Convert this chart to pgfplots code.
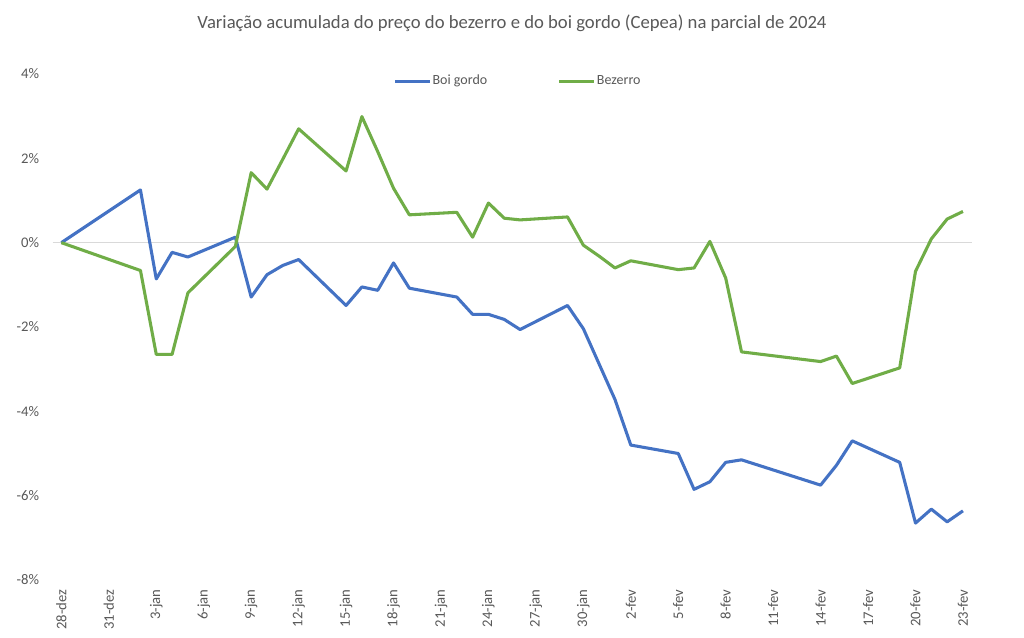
\documentclass[border=0pt]{standalone}
\usepackage{pgfplots}
\pgfplotsset{compat=1.18}
\usepackage{fontspec}
\setmainfont{Carlito}
\definecolor{boi}{HTML}{4472C4}
\definecolor{bez}{HTML}{70AD47}
\definecolor{txt}{HTML}{595959}
\definecolor{zl}{HTML}{D9D9D9}
\begin{document}
\begin{tikzpicture}
\useasboundingbox (0pt,0pt) rectangle (768pt,477.75pt);
\fill[white] (0pt,0pt) rectangle (768pt,477.75pt);
\node[text=txt,font=\fontsize{14}{16}\selectfont] at (384pt,460.5pt) {Variação acumulada do preço do bezerro e do boi gordo (Cepea) na parcial de 2024};
\begin{axis}[
  at={(39.5pt,42.75pt)}, anchor=south west,
  scale only axis, width=689.25pt, height=379.5pt,
  xmin=-0.55, xmax=57.55, ymin=-8, ymax=4,
  axis line style={draw=none}, major tick style={draw=none},
  xtick={0,3,...,57},
  xticklabels={28-dez,31-dez,3-jan,6-jan,9-jan,12-jan,15-jan,18-jan,21-jan,24-jan,27-jan,30-jan,2-fev,5-fev,8-fev,11-fev,14-fev,17-fev,20-fev,23-fev},
  ytick={-8,-6,-4,-2,0,2,4},
  yticklabels={-8\%,-6\%,-4\%,-2\%,0\%,2\%,4\%},
  ticklabel style={text=txt,font=\fontsize{11}{13}\selectfont},
  xticklabel style={rotate=90,anchor=east,inner sep=0pt,xshift=-7pt},
  yticklabel style={anchor=east,inner sep=0pt,xshift=-10pt},
  legend columns=2,
  legend style={at={(rel axis cs:0.506,0.986)},anchor=center,draw=none,fill=none,
    font=\fontsize{10.5}{12}\selectfont,text=txt,
    nodes={inner sep=1pt},
    /tikz/every even column/.append style={column sep=52pt}},
  legend image code/.code={\draw[#1] (0pt,0pt) -- (26pt,0pt);},
  clip=false,
]
\draw[zl,line width=0.8pt] (axis cs:-0.55,0) -- (axis cs:57.55,0);
\addplot[boi,line width=2.3pt,line join=round] coordinates {
(0,0) (5,1.25) (6,-0.86) (7,-0.23) (8,-0.34) (11,0.13) (12,-1.29) (13,-0.76)
(14,-0.54) (15,-0.40) (18,-1.49) (19,-1.05) (20,-1.13) (21,-0.48) (22,-1.08)
(25,-1.29) (26,-1.70) (27,-1.70) (28,-1.82) (29,-2.06) (32,-1.49) (33,-2.04)
(34,-2.88) (35,-3.72) (36,-4.80) (39,-5.00) (40,-5.85) (41,-5.67) (42,-5.21)
(43,-5.15) (48,-5.75) (49,-5.28) (50,-4.70) (53,-5.21) (54,-6.65) (55,-6.32)
(56,-6.62) (57,-6.36)};
\addlegendentry{Boi gordo}
\addplot[bez,line width=2.3pt,line join=round] coordinates {
(0,0) (5,-0.66) (6,-2.65) (7,-2.65) (8,-1.19) (11,-0.09) (12,1.66) (13,1.27)
(14,1.98) (15,2.70) (18,1.70) (19,2.99) (20,2.16) (21,1.29) (22,0.66)
(25,0.72) (26,0.13) (27,0.94) (28,0.58) (29,0.54) (32,0.61) (33,-0.06)
(34,-0.32) (35,-0.60) (36,-0.43) (39,-0.64) (40,-0.60) (41,0.03) (42,-0.84)
(43,-2.59) (48,-2.82) (49,-2.69) (50,-3.34) (53,-2.97) (54,-0.68) (55,0.09)
(56,0.56) (57,0.74)};
\addlegendentry{Bezerro}
\end{axis}
\end{tikzpicture}
\end{document}
